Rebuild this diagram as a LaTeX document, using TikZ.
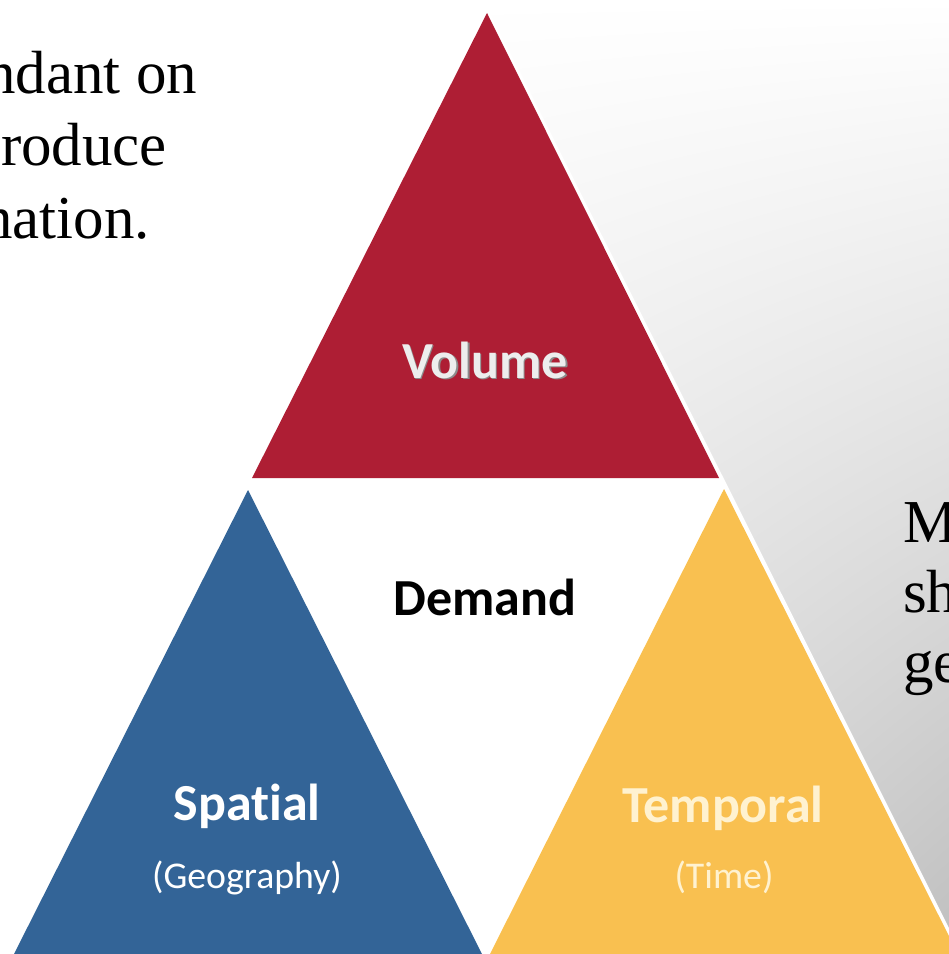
\documentclass[tikz,border=0pt]{standalone}
\usepackage{fontspec}
\setmainfont{Liberation Serif}
\newfontfamily\labelfont[RawFeature={-liga;-clig;-calt}]{Carlito}
\usetikzlibrary{shadings}
\definecolor{volred}{RGB}{174,30,52}
\definecolor{spablue}{RGB}{51,100,151}
\definecolor{temyellow}{RGB}{249,192,80}
\definecolor{temcream}{RGB}{255,242,208}
\begin{document}
\begin{tikzpicture}[x=0.02cm, y=-0.02cm,
			every node/.style = {inner sep=0pt, outer sep=0pt},
			slide/.style = {font=\fontsize{34.7}{41}\selectfont, anchor=base west},
			big/.style = {font=\labelfont\bfseries\fontsize{29.6}{35}\selectfont, anchor=base},
			small/.style = {font=\labelfont\fontsize{21.5}{26}\selectfont, anchor=base}]
			
			\useasboundingbox (0,0) rectangle (949,954);
			\clip (0,0) rectangle (949,954);
			\shade[upper left=white, upper right=white, lower left=white, lower right=black!25]
				(0,0) rectangle (949,954);
			\fill[white] (0,0) -- (484,0) -- (962,954) -- (0,954) -- cycle;
			
			% corners of the three triangles
			\coordinate (vtop) at (487,13);
			\coordinate (vleft) at (252,478);
			\coordinate (vright) at (719,478);
			\coordinate (stop) at (248,490);
			\coordinate (sleft) at (14,954);
			\coordinate (sright) at (482,954);
			\coordinate (ttop) at (724,489);
			\coordinate (tleft) at (490,954);
			\coordinate (tright) at (958,954);
			
			\fill[volred] (vtop) -- (vleft) -- (vright) -- cycle;
			\fill[spablue] (stop) -- (sleft) -- (sright) -- cycle;
			\fill[temyellow] (ttop) -- (tleft) -- (tright) -- cycle;
			
			\node[big, text=black!45] at (486.5,379.5) {Volume};
			\node[big, text=white!93!black] (volume) at (485,378) {Volume};
			\node[big, text=black] (demand) at (485,615) {Demand};
			\node[big, text=white] (spatial) at (247,820) {Spatial};
			\node[small, text=white] (geography) at (247,888) {(Geography)};
			\node[big, text=temcream] (temporal) at (723,822) {Temporal};
			\node[small, text=temcream] (time) at (724,888) {(Time)};
			
			% slide text around the picture
			\node[slide, anchor=base east] (intro1) at (197,93) {ndant on};
			\node[slide, anchor=base east] (intro2) at (167,165) {roduce};
			\node[slide, anchor=base east] (intro3) at (150,238) {nation.};
			\node[slide] (note1) at (903,542) {M};
			\node[slide] (note2) at (903,612) {sh};
			\node[slide] (note3) at (903,682) {ge};
\end{tikzpicture}
\end{document}
